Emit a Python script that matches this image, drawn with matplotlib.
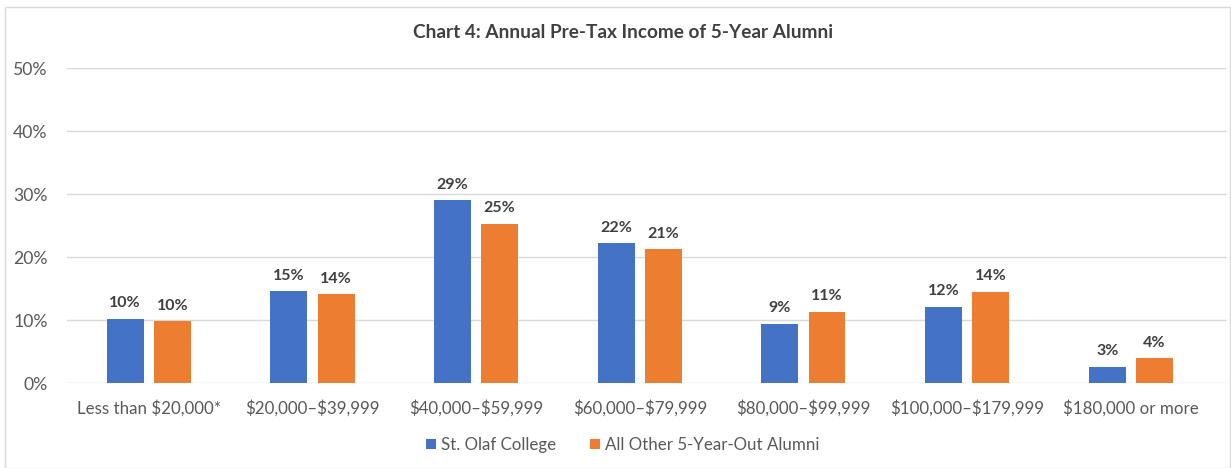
import numpy as np
import matplotlib.pyplot as plt
from matplotlib.patches import Rectangle

plt.rcParams['font.family'] = ['Lato', 'DejaVu Sans']

categories = ['Less than $20,000*', '$20,000\u2013$39,999', '$40,000\u2013$59,999',
              '$60,000\u2013$79,999', '$80,000\u2013$99,999', '$100,000\u2013$179,999',
              '$180,000 or more']
st_olaf = [10.2, 14.6, 29.0, 22.2, 9.4, 12.1, 2.6]
others = [9.8, 14.1, 25.3, 21.2, 11.3, 14.5, 3.9]
series_names = ['St. Olaf College', 'All Other 5-Year-Out Alumni']
yticks = [0, 10, 20, 30, 40, 50]

blue = '#4472C4'
orange = '#ED7D31'
txt = '#595959'

fig = plt.figure(figsize=(12.31, 4.68), dpi=100)
ax = fig.add_axes([0.0544, 0.1816, 0.9426, 0.6731])

# light frame around the chart
fig.patches.append(Rectangle((5/1231, 0), 1 - 5/1231 - 0.001, 1 - 7/468,
                             transform=fig.transFigure, fill=False,
                             edgecolor='#D9D9D9', linewidth=1))

x = np.arange(len(categories))
w = 0.226
off = w/2 + 0.031
b1 = ax.bar(x - off, st_olaf, w, color=blue, label=series_names[0], zorder=3)
b2 = ax.bar(x + off, others, w, color=orange, label=series_names[1], zorder=3)

for bars, vals in [(b1, st_olaf), (b2, others)]:
    for r, v in zip(bars, vals):
        ax.annotate('%d%%' % round(v), (r.get_x() + r.get_width()/2, v),
                    xytext=(0, 6), textcoords='offset points', ha='center',
                    va='bottom', fontsize=11.5, fontweight='bold', color='#404040')

ax.set_xlim(-0.5, 6.59)
ax.set_ylim(0, 50)
ax.set_yticks(yticks)
ax.set_yticklabels(['%d%%' % t for t in yticks])
ax.set_xticks(x)
ax.set_xticklabels([c.replace('$', r'\$') for c in categories])
ax.tick_params(axis='both', length=0, labelsize=12.7, labelcolor=txt)
ax.tick_params(axis='x', pad=12, labelsize=12.2)
ax.tick_params(axis='y', pad=14)
ax.grid(axis='y', color='#D9D9D9', linewidth=1, zorder=0)
for s in ax.spines.values():
    s.set_visible(False)

fig.text(0.506, 1 - 33/468, 'Chart 4: Annual Pre-Tax Income of 5-Year Alumni',
         ha='center', va='center', fontsize=13.7, fontweight='bold', color='#404040')

fig.legend(handles=[b1, b2], loc='center', bbox_to_anchor=(0.506, 1 - 445/468),
           ncol=2, frameon=False, fontsize=12.2, labelcolor=txt,
           handlelength=0.6, handleheight=0.6, handletextpad=0.3, columnspacing=2.0)

fig.savefig('out.png', dpi=100)
